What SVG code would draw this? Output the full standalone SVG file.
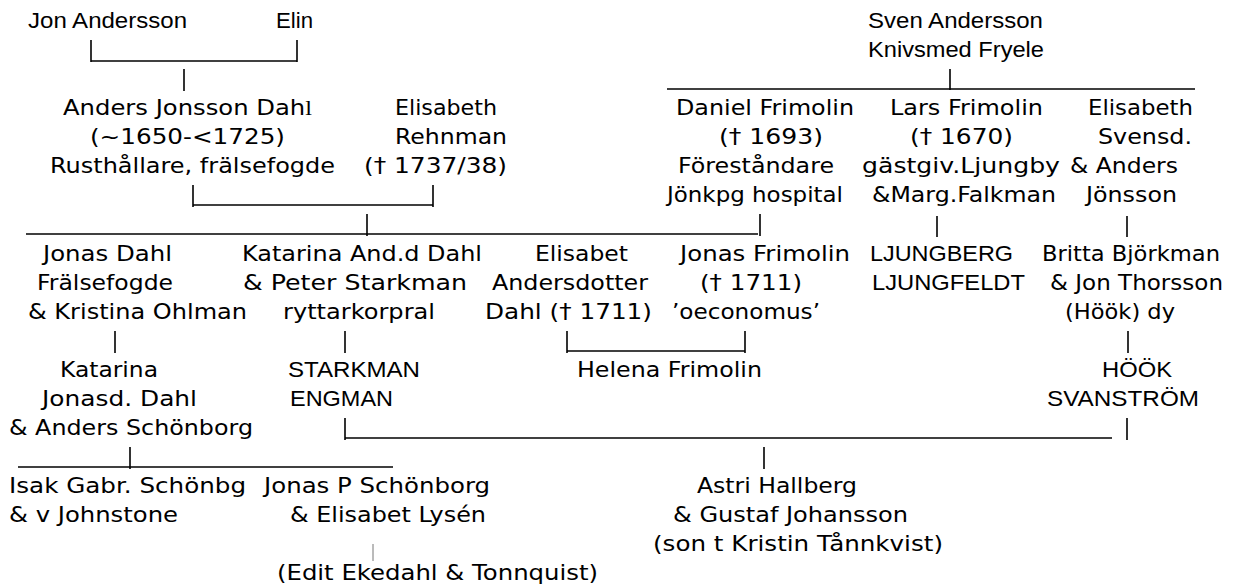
<svg xmlns="http://www.w3.org/2000/svg" width="1241" height="588" viewBox="0 0 1241 588">
<style>
.v{font-family:"DejaVu Sans",Verdana,sans-serif;font-size:22px;fill:#000}
.a{font-family:"Liberation Sans",Arial,sans-serif;font-size:22px;fill:#000}
.c line{stroke:#000;stroke-width:1.6;fill:none}
.c line.thin{stroke:#777;stroke-width:1}
</style>
<rect width="1241" height="588" fill="#fff"/>
<g id="connectors" class="c">
<line x1="91" y1="40" x2="91" y2="62"/><line x1="91" y1="61" x2="297" y2="61"/><line x1="297" y1="40" x2="297" y2="62"/>
<line x1="184" y1="69" x2="184" y2="91"/>
<line x1="667" y1="89" x2="1195" y2="89"/><line x1="950" y1="69" x2="950" y2="90"/>
<line x1="193" y1="185" x2="193" y2="207"/><line x1="193" y1="205" x2="433" y2="205"/><line x1="433" y1="185" x2="433" y2="207"/>
<line x1="26" y1="234" x2="758" y2="234"/><line x1="367" y1="214" x2="367" y2="236"/><line x1="760" y1="214" x2="760" y2="236"/>
<line x1="937" y1="216" x2="937" y2="237"/><line x1="1127" y1="216" x2="1127" y2="237"/>
<line x1="115" y1="331" x2="115" y2="353"/><line x1="345" y1="331" x2="345" y2="353"/>
<line x1="567" y1="331" x2="567" y2="353"/><line x1="567" y1="351" x2="745" y2="351"/><line x1="745" y1="331" x2="745" y2="353"/>
<line x1="1128" y1="331" x2="1128" y2="353"/>
<line x1="345" y1="418" x2="345" y2="440"/><line x1="345" y1="438" x2="1112" y2="438"/><line x1="1127" y1="418" x2="1127" y2="440"/>
<line x1="18" y1="467" x2="393" y2="467"/><line x1="130" y1="447" x2="130" y2="469"/>
<line x1="764" y1="447" x2="764" y2="469"/>
<line class="thin" x1="373" y1="544" x2="373" y2="561"/>
</g>
<g id="n-jon"><text class="a" x="28" y="28" textLength="159" lengthAdjust="spacingAndGlyphs">Jon Andersson</text></g>
<g id="n-elin"><text class="a" x="276" y="28" textLength="37" lengthAdjust="spacingAndGlyphs">Elin</text></g>
<g id="n-sven"><text class="a" x="868" y="28" textLength="175" lengthAdjust="spacingAndGlyphs">Sven Andersson</text>
<text class="a" x="868" y="57" textLength="176" lengthAdjust="spacingAndGlyphs">Knivsmed Fryele</text></g>
<g id="n-anders"><text class="v" x="63" y="115" textLength="249" lengthAdjust="spacingAndGlyphs">Anders Jonsson Dah<tspan font-family="Liberation Serif, serif">l</tspan></text>
<text class="v" x="90" y="144" textLength="195" lengthAdjust="spacingAndGlyphs">(~1650-&lt;1725)</text>
<text class="v" x="50" y="173" textLength="285" lengthAdjust="spacingAndGlyphs">Rusthållare, frälsefogde</text></g>
<g id="n-elisabeth-r"><text class="v" x="395" y="115" textLength="102" lengthAdjust="spacingAndGlyphs">Elisabeth</text>
<text class="v" x="395" y="144" textLength="112" lengthAdjust="spacingAndGlyphs">Rehnman</text>
<text class="v" x="364" y="173" textLength="143" lengthAdjust="spacingAndGlyphs">(† 1737/38)</text></g>
<g id="n-daniel"><text class="v" x="676" y="115" textLength="178" lengthAdjust="spacingAndGlyphs">Daniel Frimolin</text>
<text class="v" x="719" y="144" textLength="104" lengthAdjust="spacingAndGlyphs">(† 1693)</text>
<text class="v" x="678" y="173" textLength="156" lengthAdjust="spacingAndGlyphs">Föreståndare</text>
<text class="v" x="667" y="202" textLength="176" lengthAdjust="spacingAndGlyphs">Jönkpg hospital</text></g>
<g id="n-lars"><text class="v" x="890" y="115" textLength="153" lengthAdjust="spacingAndGlyphs">Lars Frimolin</text>
<text class="v" x="910" y="144" textLength="103" lengthAdjust="spacingAndGlyphs">(† 1670)</text>
<text class="v" x="862" y="173" textLength="198" lengthAdjust="spacingAndGlyphs">gästgiv.Ljungby</text>
<text class="v" x="872" y="202" textLength="184" lengthAdjust="spacingAndGlyphs">&amp;Marg.Falkman</text></g>
<g id="n-elisabeth-s"><text class="v" x="1088" y="115" textLength="105" lengthAdjust="spacingAndGlyphs">Elisabeth</text>
<text class="v" x="1098" y="144" textLength="94" lengthAdjust="spacingAndGlyphs">Svensd.</text>
<text class="v" x="1070" y="173" textLength="108" lengthAdjust="spacingAndGlyphs">&amp; Anders</text>
<text class="v" x="1086" y="202" textLength="91" lengthAdjust="spacingAndGlyphs">Jönsson</text></g>
<g id="n-jonas-dahl"><text class="v" x="43" y="261" textLength="129" lengthAdjust="spacingAndGlyphs">Jonas Dahl</text>
<text class="v" x="37" y="290" textLength="136" lengthAdjust="spacingAndGlyphs">Frälsefogde</text>
<text class="v" x="28" y="319" textLength="219" lengthAdjust="spacingAndGlyphs">&amp; Kristina Ohlman</text></g>
<g id="n-katarina-and"><text class="v" x="242" y="261" textLength="240" lengthAdjust="spacingAndGlyphs">Katarina And.d Dahl</text>
<text class="v" x="243" y="290" textLength="224" lengthAdjust="spacingAndGlyphs">&amp; Peter Starkman</text>
<text class="v" x="283" y="319" textLength="152" lengthAdjust="spacingAndGlyphs">ryttarkorpral</text></g>
<g id="n-elisabet-a"><text class="v" x="535" y="261" textLength="93" lengthAdjust="spacingAndGlyphs">Elisabet</text>
<text class="v" x="492" y="290" textLength="156" lengthAdjust="spacingAndGlyphs">Andersdotter</text>
<text class="v" x="485" y="319" textLength="167" lengthAdjust="spacingAndGlyphs">Dahl († 1711)</text></g>
<g id="n-jonas-f"><text class="v" x="680" y="261" textLength="170" lengthAdjust="spacingAndGlyphs">Jonas Frimolin</text>
<text class="v" x="700" y="290" textLength="102" lengthAdjust="spacingAndGlyphs">(† 1711)</text>
<text class="v" x="672" y="319" textLength="148" lengthAdjust="spacingAndGlyphs">’oeconomus’</text></g>
<g id="n-ljung"><text class="a" x="870" y="261" textLength="143" lengthAdjust="spacingAndGlyphs">LJUNGBERG</text>
<text class="a" x="872" y="290" textLength="153" lengthAdjust="spacingAndGlyphs">LJUNGFELDT</text></g>
<g id="n-britta"><text class="v" x="1042" y="261" textLength="178" lengthAdjust="spacingAndGlyphs">Britta Björkman</text>
<text class="v" x="1050" y="290" textLength="173" lengthAdjust="spacingAndGlyphs">&amp; Jon Thorsson</text>
<text class="v" x="1065" y="319" textLength="110" lengthAdjust="spacingAndGlyphs">(Höök) dy</text></g>
<g id="n-katarina-j"><text class="v" x="60" y="377" textLength="98" lengthAdjust="spacingAndGlyphs">Katarina</text>
<text class="v" x="42" y="406" textLength="155" lengthAdjust="spacingAndGlyphs">Jonasd. Dahl</text>
<text class="v" x="9" y="435" textLength="244" lengthAdjust="spacingAndGlyphs">&amp; Anders Schönborg</text></g>
<g id="n-starkman"><text class="a" x="288" y="377" textLength="132" lengthAdjust="spacingAndGlyphs">STARKMAN</text>
<text class="a" x="290" y="406" textLength="103" lengthAdjust="spacingAndGlyphs">ENGMAN</text></g>
<g id="n-helena"><text class="v" x="577" y="377" textLength="185" lengthAdjust="spacingAndGlyphs">Helena Frimolin</text></g>
<g id="n-hook"><text class="a" x="1102" y="377" textLength="70" lengthAdjust="spacingAndGlyphs">HÖÖK</text>
<text class="a" x="1047" y="406" textLength="152" lengthAdjust="spacingAndGlyphs">SVANSTRÖM</text></g>
<g id="n-isak"><text class="v" x="9" y="493" textLength="237" lengthAdjust="spacingAndGlyphs">Isak Gabr. Schönbg</text>
<text class="v" x="9" y="522" textLength="169" lengthAdjust="spacingAndGlyphs">&amp; v Johnstone</text></g>
<g id="n-jonasp"><text class="v" x="264" y="493" textLength="226" lengthAdjust="spacingAndGlyphs">Jonas P Schönborg</text>
<text class="v" x="290" y="522" textLength="196" lengthAdjust="spacingAndGlyphs">&amp; Elisabet Lysén</text></g>
<g id="n-edit"><text class="v" x="277" y="580" textLength="321" lengthAdjust="spacingAndGlyphs">(Edit Ekedahl &amp; Tonnquist)</text></g>
<g id="n-astri"><text class="v" x="697" y="493" textLength="160" lengthAdjust="spacingAndGlyphs">Astri Hallberg</text>
<text class="v" x="673" y="522" textLength="235" lengthAdjust="spacingAndGlyphs">&amp; Gustaf Johansson</text>
<text class="v" x="653" y="551" textLength="290" lengthAdjust="spacingAndGlyphs">(son t Kristin Tånnkvist)</text></g>
</svg>
